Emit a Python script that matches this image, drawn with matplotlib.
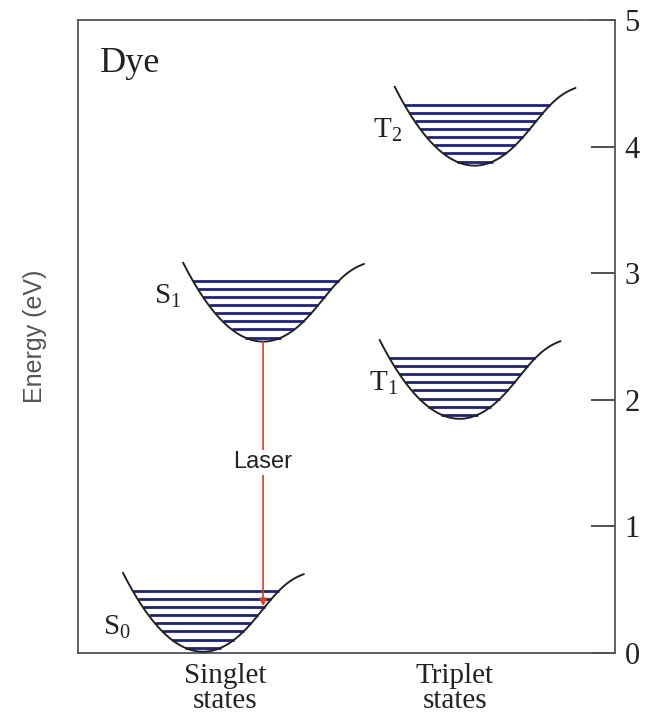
import numpy as np
import matplotlib.pyplot as plt

plt.rcParams['font.family'] = ['Liberation Serif', 'DejaVu Serif']
plt.rcParams['mathtext.default'] = 'regular'

# potential wells: singlet S0, S1 and triplet T1, T2
well_names = ['S$_0$', 'S$_1$', 'T$_1$', 'T$_2$']
well_x = [2.33, 3.45, 7.11, 7.39]        # position of the minimum (arb. units)
well_emin = [0.01, 2.46, 1.85, 3.85]     # energy at the minimum, eV
n_levels = [8, 8, 8, 8]
level_top = [0.48, 0.48, 0.48, 0.48]     # highest vibrational level above minimum, eV
level_step = [0.064, 0.064, 0.064, 0.064]

# laser transition S1 -> S0
laser_x = 3.45
laser_from = 2.46
laser_to = 0.37

yticks = [0, 1, 2, 3, 4, 5]
groups = ['Singlet\nstates', 'Triplet\nstates']
group_x = [2.74, 7.02]

# well shape: parabola on the left, flattening (dissociating) on the right
k_left = 0.281
s_right = 1.545
x_left, x_right = -1.49, 1.88


def well(dx):
    return np.where(dx < 0, k_left * dx**2,
                    k_left * dx**2 / np.cbrt(1 + (dx / s_right)**6))


fig = plt.figure(figsize=(6.54, 7.21), dpi=100)
ax = fig.add_axes([0.119, 0.0943, 0.821, 0.8779])
ax.set_xlim(0, 10)
ax.set_ylim(0, 5)

navy = '#1f2470'
branch = np.linspace(0, x_right, 500)
for name, x0, e0, n, top, step in zip(well_names, well_x, well_emin,
                                      n_levels, level_top, level_step):
    dx = np.linspace(x_left, x_right, 300)
    ax.plot(x0 + dx, e0 + well(dx), color='#222222', lw=1.4, zorder=3,
            solid_capstyle='round')
    for i in range(n):
        e = top - i * step
        xl = -np.sqrt(e / k_left)
        xr = np.interp(e, well(branch), branch)
        ax.plot([x0 + xl, x0 + xr], [e0 + e, e0 + e], color=navy, lw=2.0,
                zorder=2, solid_capstyle='butt')

label_pos = [(0.73, 0.20), (1.68, 2.82), (5.70, 2.13), (5.77, 4.13)]
for name, (lx, ly) in zip(well_names, label_pos):
    ax.text(lx, ly, name, fontsize=21, ha='center', va='center', color='#222222')

ax.annotate('', xy=(laser_x, laser_to), xytext=(laser_x, laser_from),
            arrowprops=dict(arrowstyle='-|>', color='#e0401c', lw=1.2,
                            mutation_scale=11, shrinkA=0, shrinkB=0), zorder=4)
ax.text(laser_x, 1.505, 'Laser', family=['Liberation Sans', 'DejaVu Sans'],
        fontsize=17, ha='center', va='center', color='#222222', zorder=5,
        bbox=dict(facecolor='white', edgecolor='none', pad=1))

ax.text(0.41, 4.66, 'Dye', fontsize=26, ha='left', va='center', color='#222222')

for g, gx in zip(groups, group_x):
    ax.text(gx, -0.016, g, fontsize=21, ha='center', va='top', color='#222222',
            linespacing=0.95, transform=ax.get_xaxis_transform())

ax.text(-0.08, 0.5, 'Energy (eV)', family=['Liberation Sans', 'DejaVu Sans'],
        fontsize=18, rotation=90, ha='center', va='center', color='#555555',
        transform=ax.transAxes)

ax.set_xticks([])
ax.yaxis.tick_right()
ax.set_yticks(yticks)
ax.tick_params(axis='y', direction='in', length=17, width=1.2, pad=7,
               labelsize=22, color='#333333', labelcolor='#222222')
for s in ax.spines.values():
    s.set_color('#555555')
    s.set_linewidth(1.3)

fig.savefig('out.png', dpi=100)
